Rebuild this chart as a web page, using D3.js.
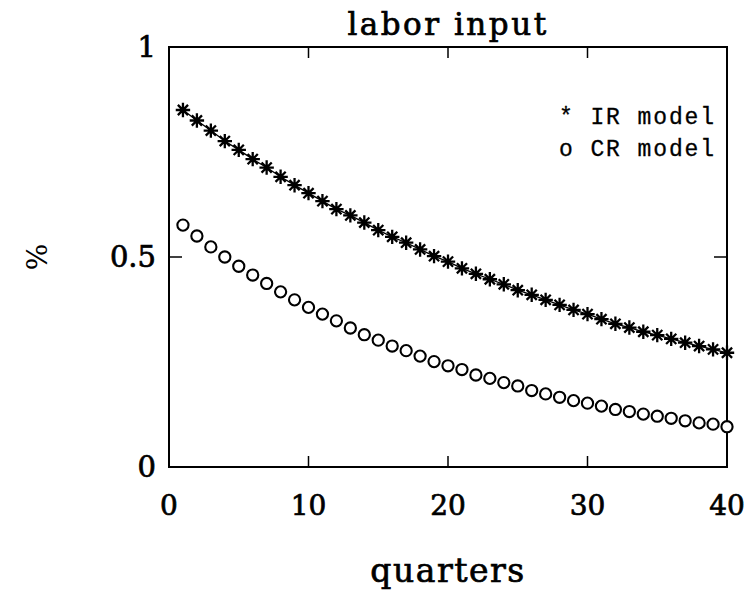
<!DOCTYPE html>
<html>
<head>
<meta charset="utf-8">
<script src="https://cdn.jsdelivr.net/npm/d3@7"></script>
<style>
  html, body { margin: 0; padding: 0; background: #fff; }
  svg { display: block; }
</style>
</head>
<body>
<div id="chart"></div>
<script>
// quarters 1..40
const quarters = d3.range(1, 41);

// IR model (stars, joined by a line)
const irValues = [
  0.850, 0.825, 0.801, 0.776, 0.755, 0.733, 0.713, 0.691, 0.671, 0.652,
  0.633, 0.614, 0.599, 0.582, 0.564, 0.548, 0.534, 0.518, 0.502, 0.489,
  0.473, 0.460, 0.447, 0.435, 0.421, 0.410, 0.398, 0.386, 0.374, 0.364,
  0.352, 0.341, 0.332, 0.322, 0.314, 0.305, 0.296, 0.288, 0.280, 0.272
];

// CR model (circles)
const crValues = [
  0.576, 0.550, 0.524, 0.500, 0.478, 0.457, 0.437, 0.417, 0.398, 0.380,
  0.364, 0.348, 0.331, 0.315, 0.302, 0.288, 0.277, 0.264, 0.251, 0.241,
  0.232, 0.219, 0.211, 0.201, 0.193, 0.182, 0.174, 0.166, 0.158, 0.152,
  0.145, 0.137, 0.132, 0.126, 0.121, 0.116, 0.110, 0.105, 0.102, 0.096
];

const xTicks = [0, 10, 20, 30, 40];
const yTicks = [0, 0.5, 1];
const yTickLabels = ["0", "0.5", "1"];
const legendLabels = ["* IR model", "o CR model"];

const width = 754, height = 596;
const margin = { top: 47, right: 27, bottom: 129, left: 169 };
const plotW = width - margin.left - margin.right;
const plotH = height - margin.top - margin.bottom;

const serif = "'DejaVu Serif', 'Liberation Serif', serif";

const svg = d3.select("#chart").append("svg")
  .attr("width", width)
  .attr("height", height);

const x = d3.scaleLinear().domain([0, 40]).range([0, plotW]);
const y = d3.scaleLinear().domain([0, 1]).range([plotH, 0]);

const g = svg.append("g")
  .attr("transform", `translate(${margin.left},${margin.top})`);

// frame
g.append("rect")
  .attr("width", plotW)
  .attr("height", plotH)
  .attr("fill", "none")
  .attr("stroke", "#000")
  .attr("stroke-width", 2);

// inward ticks (bottom + top)
const tickLen = 11;
const innerX = xTicks.filter(d => d > 0 && d < 40);
g.selectAll(".xtick-b").data(innerX).join("line")
  .attr("x1", d => x(d)).attr("x2", d => x(d))
  .attr("y1", plotH).attr("y2", plotH - tickLen)
  .attr("stroke", "#000").attr("stroke-width", 1.5);
g.selectAll(".xtick-t").data(innerX).join("line")
  .attr("x1", d => x(d)).attr("x2", d => x(d))
  .attr("y1", 0).attr("y2", tickLen)
  .attr("stroke", "#000").attr("stroke-width", 1.5);

const innerY = yTicks.filter(d => d > 0 && d < 1);
g.selectAll(".ytick-l").data(innerY).join("line")
  .attr("x1", 0).attr("x2", tickLen + 2)
  .attr("y1", d => y(d)).attr("y2", d => y(d))
  .attr("stroke", "#000").attr("stroke-width", 1.5);
g.selectAll(".ytick-r").data(innerY).join("line")
  .attr("x1", plotW).attr("x2", plotW - tickLen - 2)
  .attr("y1", d => y(d)).attr("y2", d => y(d))
  .attr("stroke", "#000").attr("stroke-width", 1.5);

// serif text is drawn a bit heavier, like the scanned original
const heavy = sel => sel
  .attr("font-family", serif)
  .attr("stroke", "#000")
  .attr("stroke-width", 0.7)
  .attr("fill", "#000");

// tick labels
g.selectAll(".xlab").data(xTicks).join("text")
  .attr("x", d => x(d))
  .attr("y", plotH + 48)
  .attr("text-anchor", "middle")
  .attr("font-size", 28)
  .call(heavy)
  .text(d => d);

g.selectAll(".ylab").data(yTicks).join("text")
  .attr("x", -13)
  .attr("y", d => y(d))
  .attr("dy", "0.36em")
  .attr("text-anchor", "end")
  .attr("font-size", 29)
  .call(heavy)
  .text((d, i) => yTickLabels[i]);

// title
svg.append("text")
  .attr("x", margin.left + plotW / 2)
  .attr("y", 35)
  .attr("text-anchor", "middle")
  .attr("font-size", 31)
  .attr("letter-spacing", 2.5)
  .call(heavy)
  .text("labor input");

// x-axis title
svg.append("text")
  .attr("x", margin.left + plotW / 2)
  .attr("y", 582)
  .attr("text-anchor", "middle")
  .attr("font-size", 33)
  .attr("letter-spacing", 1.5)
  .call(heavy)
  .text("quarters");

// y-axis title
svg.append("text")
  .attr("transform", "translate(47,257) rotate(-90)")
  .attr("text-anchor", "middle")
  .attr("font-size", 28)
  .attr("font-family", serif)
  .text("%");

// IR line
const irPts = quarters.map((q, i) => [q, irValues[i]]);
const crPts = quarters.map((q, i) => [q, crValues[i]]);

g.append("path")
  .datum(irPts)
  .attr("fill", "none")
  .attr("stroke", "#000")
  .attr("stroke-width", 1.3)
  .attr("d", d3.line().x(d => x(d[0])).y(d => y(d[1])));

// star markers
const r = 7.2;
const starPath = () => {
  let p = "";
  [0, 45, 90, 135].forEach(a => {
    const t = a * Math.PI / 180;
    const dx = r * Math.cos(t), dy = r * Math.sin(t);
    p += `M${-dx},${-dy}L${dx},${dy}`;
  });
  return p;
};
g.selectAll(".star").data(irPts).join("path")
  .attr("transform", d => `translate(${x(d[0])},${y(d[1])})`)
  .attr("d", starPath())
  .attr("stroke", "#000")
  .attr("stroke-width", 2.3)
  .attr("fill", "none");

// circle markers
g.selectAll(".circ").data(crPts).join("circle")
  .attr("cx", d => x(d[0]))
  .attr("cy", d => y(d[1]))
  .attr("r", 5.6)
  .attr("fill", "#fff")
  .attr("stroke", "#000")
  .attr("stroke-width", 2.1);

// legend
svg.selectAll(".leg").data(legendLabels).join("text")
  .attr("x", 559)
  .attr("y", (d, i) => 124 + i * 32)
  .attr("font-family", "'Liberation Mono', 'DejaVu Sans Mono', monospace")
  .attr("font-size", 23)
  .attr("letter-spacing", 1.9)
  .attr("stroke", "#000")
  .attr("stroke-width", 0.3)
  .attr("xml:space", "preserve")
  .text(d => d);
</script>
</body>
</html>
